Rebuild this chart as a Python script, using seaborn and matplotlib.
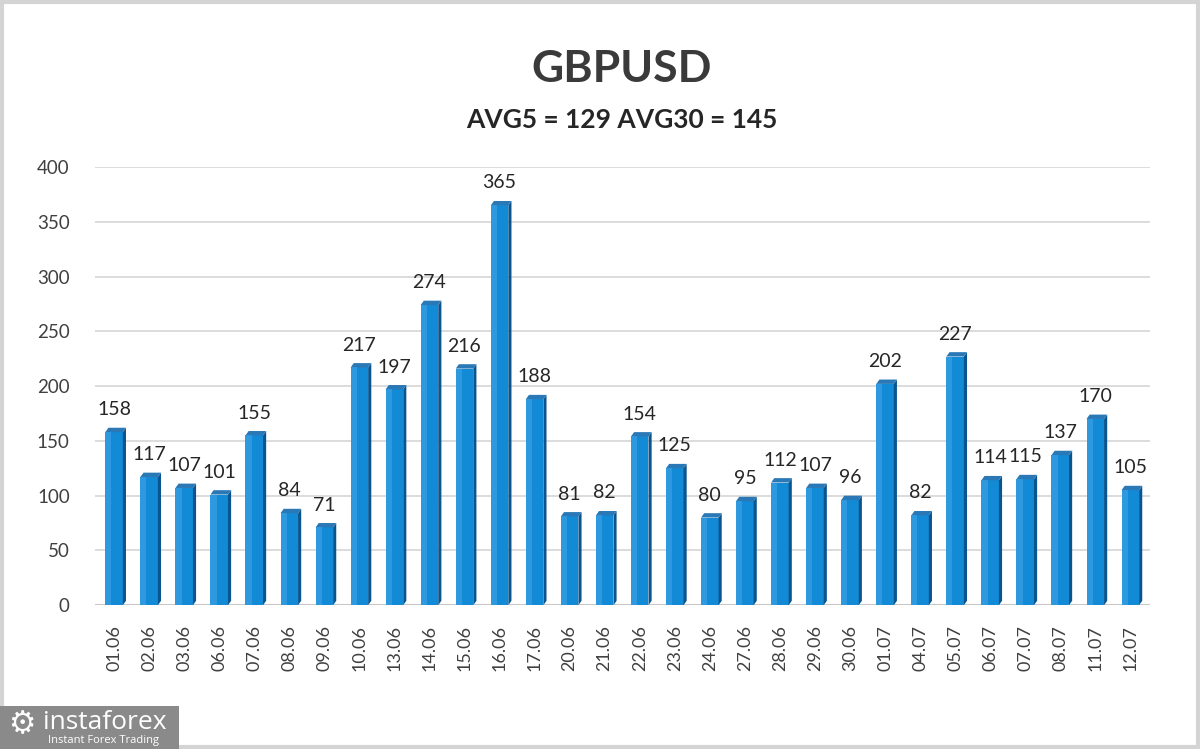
import matplotlib
matplotlib.use("Agg")
import matplotlib.pyplot as plt
import seaborn as sns
import pandas as pd
from matplotlib.patches import Polygon, Rectangle

dates = ["01.06", "02.06", "03.06", "06.06", "07.06", "08.06", "09.06", "10.06", "13.06", "14.06",
         "15.06", "16.06", "17.06", "20.06", "21.06", "22.06", "23.06", "24.06", "27.06", "28.06",
         "29.06", "30.06", "01.07", "04.07", "05.07", "06.07", "07.07", "08.07", "11.07", "12.07"]
values = [158, 117, 107, 101, 155, 84, 71, 217, 197, 274,
          216, 365, 188, 81, 82, 154, 125, 80, 95, 112,
          107, 96, 202, 82, 227, 114, 115, 137, 170, 105]
yticks = [0, 50, 100, 150, 200, 250, 300, 350, 400]
title = "GBPUSD"
subtitle = "AVG5 = 129 AVG30 = 145"

sns.set_theme(style="white")
plt.rcParams["font.family"] = ["Lato", "DejaVu Sans"]

df = pd.DataFrame({"date": dates, "value": values})

fig = plt.figure(figsize=(12, 7.49), dpi=100)
fig.patch.set_facecolor("white")
ax = fig.add_axes([0.079, 0.192, 0.879, 0.585])

sns.barplot(data=df, x="date", y="value", color="#138ad6", width=0.5,
            saturation=1, ax=ax, zorder=3, edgecolor="none")

ax.set_ylim(0, 400)
ax.set_xlim(-0.55, len(dates) - 0.45)
ax.set_yticks(yticks)
ax.yaxis.grid(True, color="#d9d9d9", linewidth=1.3, zorder=0)
for s in ax.spines.values():
    s.set_visible(False)
ax.set_xlabel("")
ax.set_ylabel("")
ax.tick_params(axis="y", labelsize=13.5, colors="#404040", length=0, pad=18)
ax.tick_params(axis="x", labelsize=13, colors="#404040", length=0, pad=14, rotation=90)
ax.axhline(0, color="#c8c8c8", linewidth=1.5, zorder=1)

# pseudo-3D faces derived from bar patches
dx = 0.09
dy = 4.0
for p in list(ax.patches):
    x0 = p.get_x()
    w = p.get_width()
    h = p.get_height()
    side = Polygon([(x0 + w, 0), (x0 + w + dx, dy), (x0 + w + dx, h + dy), (x0 + w, h)],
                   closed=True, facecolor="#0a5590", edgecolor="none", zorder=3)
    top = Polygon([(x0, h), (x0 + dx, h + dy), (x0 + w + dx, h + dy), (x0 + w, h)],
                  closed=True, facecolor="#2a78b5", edgecolor="none", zorder=3)
    ax.add_patch(side)
    ax.add_patch(top)
    light = Rectangle((x0, 0), w * 0.35, h, facecolor="#4aa8e6", edgecolor="none",
                      alpha=0.5, zorder=3)
    ax.add_patch(light)

for i, v in enumerate(values):
    ax.annotate(str(v), (i, v), xytext=(0, 10), textcoords="offset points",
                ha="center", va="bottom", fontsize=14, color="#262626", zorder=5)

fig.text(0.518, 0.908, title, ha="center", va="center", fontsize=32,
         fontweight="bold", color="#3a3a3a")
fig.text(0.518, 0.840, subtitle, ha="center", va="center", fontsize=19,
         fontweight="bold", color="#262626")

# outer frame
fig.add_artist(Rectangle((0.002, 0.003), 0.996, 0.994, transform=fig.transFigure,
                         fill=False, edgecolor="#d4d4d4", linewidth=3))

# logo
fig.add_artist(Rectangle((0.0, 0.0), 0.149, 0.058, transform=fig.transFigure,
                         facecolor="#8a8a8a", edgecolor="none"))
fig.text(0.018, 0.032, "\u2699", ha="center", va="center", fontsize=22,
         color="white", family=["DejaVu Sans"])
fig.text(0.036, 0.036, "instaforex", ha="left", va="center", fontsize=19,
         color="white", family=["Open Sans", "DejaVu Sans"])
fig.text(0.040, 0.011, "Instant Forex Trading", ha="left", va="center", fontsize=8,
         color="white", family=["Open Sans", "DejaVu Sans"])

fig.savefig("out.png", dpi=100)
